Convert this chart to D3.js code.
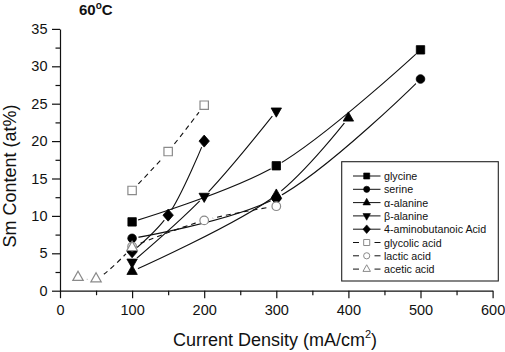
<!DOCTYPE html>
<html><head><meta charset="utf-8">
<script src="https://cdn.jsdelivr.net/npm/d3@7"></script>
<style>
html,body{margin:0;padding:0;background:#fff;}
svg{display:block;font-family:"Liberation Sans",Arial,Helvetica,sans-serif;}
</style></head>
<body><svg id="chart" width="505" height="352"></svg>
<script>
// ---- data ----
const glycine       = [[100, 9.2], [300, 16.7], [500, 32.2]];
const serine        = [[100, 7.0], [300, 12.4], [500, 28.3]];
const alphaAlanine  = [[100, 2.6], [300, 12.8], [400, 23.1]];
const betaAlanine   = [[100, 3.8], [200, 12.6], [300, 24.0]];
const aminobutanoic = [[100, 5.2], [150, 10.1], [200, 20.0]];
const aminobutanoicExtra = [[300, 12.3]];
const glycolic      = [[100, 13.4], [150, 18.6], [200, 24.8]];
const lactic        = [[100, 5.9], [200, 9.4], [300, 11.3]];
const acetic        = [[25, 1.8], [50, 1.6], [100, 5.8]];

const seriesNames = ["glycine", "serine", "\u03b1-alanine", "\u03b2-alanine",
  "4-aminobutanoic Acid", "glycolic acid", "lactic acid", "acetic acid"];
const xTicks = [0, 100, 200, 300, 400, 500, 600];
const xMinorTicks = [50, 150, 250, 350, 450, 550];
const yTicks = [0, 5, 10, 15, 20, 25, 30, 35];
const yMinorTicks = [2.5, 7.5, 12.5, 17.5, 22.5, 27.5, 32.5];

const series = [
  {name: seriesNames[0], values: glycine, sym: "square", dashed: false, fill: "#000", stroke: "#000"},
  {name: seriesNames[1], values: serine, sym: "circle", dashed: false, fill: "#000", stroke: "#000"},
  {name: seriesNames[2], values: alphaAlanine, sym: "up", dashed: false, fill: "#000", stroke: "#000"},
  {name: seriesNames[3], values: betaAlanine, sym: "down", dashed: false, fill: "#000", stroke: "#000"},
  {name: seriesNames[4], values: aminobutanoic, extra: aminobutanoicExtra, sym: "diamond", dashed: false, fill: "#000", stroke: "#000"},
  {name: seriesNames[5], values: glycolic, sym: "square", dashed: true, fill: "#fff", stroke: "#8a8a8a"},
  {name: seriesNames[6], values: lactic, sym: "circle", dashed: true, fill: "#fff", stroke: "#8a8a8a"},
  {name: seriesNames[7], values: acetic, sym: "up", dashed: true, fill: "#fff", stroke: "#8a8a8a"}
];

// ---- layout ----
const svg = d3.select("#chart");
const x = d3.scaleLinear().domain([0, 600]).range([60, 492.6]);
const y = d3.scaleLinear().domain([0, 35]).range([290.7, 28.9]);

function symPath(type, k) {
  k = k || 1;
  if (type === "square") { const h = 4.2 * k; return `M${-h},${-h}H${h}V${h}H${-h}Z`; }
  if (type === "circle") { const r = 4.3 * k; return `M${r},0A${r},${r},0,1,1,${-r},0A${r},${r},0,1,1,${r},0Z`; }
  if (type === "up") { const w = 5.2 * k, t = 6.0 * k, b = 3.2 * k; return `M0,${-t}L${w},${b}L${-w},${b}Z`; }
  if (type === "down") { const w = 5.2 * k, t = 6.0 * k, b = 3.2 * k; return `M0,${t}L${w},${-b}L${-w},${-b}Z`; }
  if (type === "diamond") { const w = 5.2 * k, h = 6.0 * k; return `M0,${-h}L${w},0L0,${h}L${-w},0Z`; }
}

// ---- axes ----
svg.append("g").attr("transform", "translate(60,0)")
  .call(d3.axisLeft(y).tickValues(yTicks).tickSize(8).tickSizeOuter(0).tickPadding(4.5).tickFormat(d3.format("d")));
svg.append("g").attr("transform", "translate(60,0)")
  .call(d3.axisLeft(y).tickValues(yMinorTicks).tickSize(4.5).tickSizeOuter(0).tickFormat(""))
  .select(".domain").remove();
svg.append("g").attr("transform", "translate(0,290.7)")
  .call(d3.axisBottom(x).tickValues(xTicks).tickSize(7.5).tickSizeOuter(0).tickPadding(6.5).tickFormat(d3.format("d")));
svg.append("g").attr("transform", "translate(0,290.7)")
  .call(d3.axisBottom(x).tickValues(xMinorTicks).tickSize(4.5).tickSizeOuter(0).tickFormat(""))
  .select(".domain").remove();
svg.selectAll(".tick text").attr("font-size", 14.5).attr("fill", "#111")
  .attr("font-family", "Liberation Sans, Arial, sans-serif");
svg.selectAll(".domain, .tick line").attr("stroke", "#111").attr("stroke-width", 1.2);

// ---- labels ----
const title = svg.append("text").attr("x", 79).attr("y", 15).attr("font-size", 15)
  .attr("font-weight", "bold").attr("fill", "#111");
title.append("tspan").text("60");
title.append("tspan").attr("font-size", 10).attr("dy", -6.5).text("o");
title.append("tspan").attr("dy", 6.5).text("C");

svg.append("text").attr("transform", "translate(16,176) rotate(-90)").attr("text-anchor", "middle")
  .attr("font-size", 18).attr("fill", "#111").text("Sm Content (at%)");

const xl = svg.append("text").attr("x", 275).attr("y", 346).attr("text-anchor", "middle")
  .attr("font-size", 18).attr("fill", "#111");
xl.append("tspan").text("Current Density (mA/cm");
xl.append("tspan").attr("font-size", 11).attr("dy", -8).text("2");
xl.append("tspan").attr("dy", 8).text(")");

// ---- series lines (with gaps around own symbols) ----
const defs = svg.append("defs");
const line = d3.line().x(d => x(d[0])).y(d => y(d[1])).curve(d3.curveCatmullRom.alpha(0.5));
series.forEach((s, i) => {
  const m = defs.append("mask").attr("id", "gap" + i).attr("maskUnits", "userSpaceOnUse")
    .attr("x", 0).attr("y", 0).attr("width", 505).attr("height", 352);
  m.append("rect").attr("width", 505).attr("height", 352).attr("fill", "#fff");
  m.selectAll("circle").data(s.values).join("circle")
    .attr("cx", d => x(d[0])).attr("cy", d => y(d[1])).attr("r", s.dashed ? 9 : 6.5).attr("fill", "#000");
  svg.append("path").datum(s.values).attr("d", line).attr("fill", "none")
    .attr("stroke", "#111").attr("stroke-width", 1.1)
    .attr("stroke-dasharray", s.dashed ? "5,4" : null)
    .attr("mask", `url(#gap${i})`);
});

// ---- markers ----
series.forEach(s => {
  const pts = s.values.concat(s.extra || []);
  svg.append("g").selectAll("path").data(pts).join("path")
    .attr("transform", d => `translate(${x(d[0])},${y(d[1])})`)
    .attr("d", symPath(s.sym))
    .attr("fill", s.fill).attr("stroke", s.stroke).attr("stroke-width", s.dashed ? 1.2 : 0.8);
});

// ---- legend ----
const lg = svg.append("g");
lg.append("rect").attr("x", 341.7).attr("y", 161.7).attr("width", 156.6).attr("height", 119.3)
  .attr("fill", "#fff").attr("stroke", "#222").attr("stroke-width", 1.1);
series.forEach((s, i) => {
  const cy = 176 + i * 13.3;
  if (s.dashed) {
    lg.append("line").attr("x1", 353).attr("x2", 359).attr("y1", cy).attr("y2", cy).attr("stroke", "#111");
    lg.append("line").attr("x1", 374.5).attr("x2", 380.5).attr("y1", cy).attr("y2", cy).attr("stroke", "#111");
  } else {
    lg.append("line").attr("x1", 353).attr("x2", 380.5).attr("y1", cy).attr("y2", cy).attr("stroke", "#111");
  }
  lg.append("path").attr("transform", `translate(366.7,${cy})`).attr("d", symPath(s.sym, 0.72))
    .attr("fill", s.fill).attr("stroke", s.stroke).attr("stroke-width", s.dashed ? 1 : 0.6);
  lg.append("text").attr("x", 384).attr("y", cy + 4).attr("font-size", 10.7).attr("fill", "#111").text(s.name);
});
</script></body></html>
